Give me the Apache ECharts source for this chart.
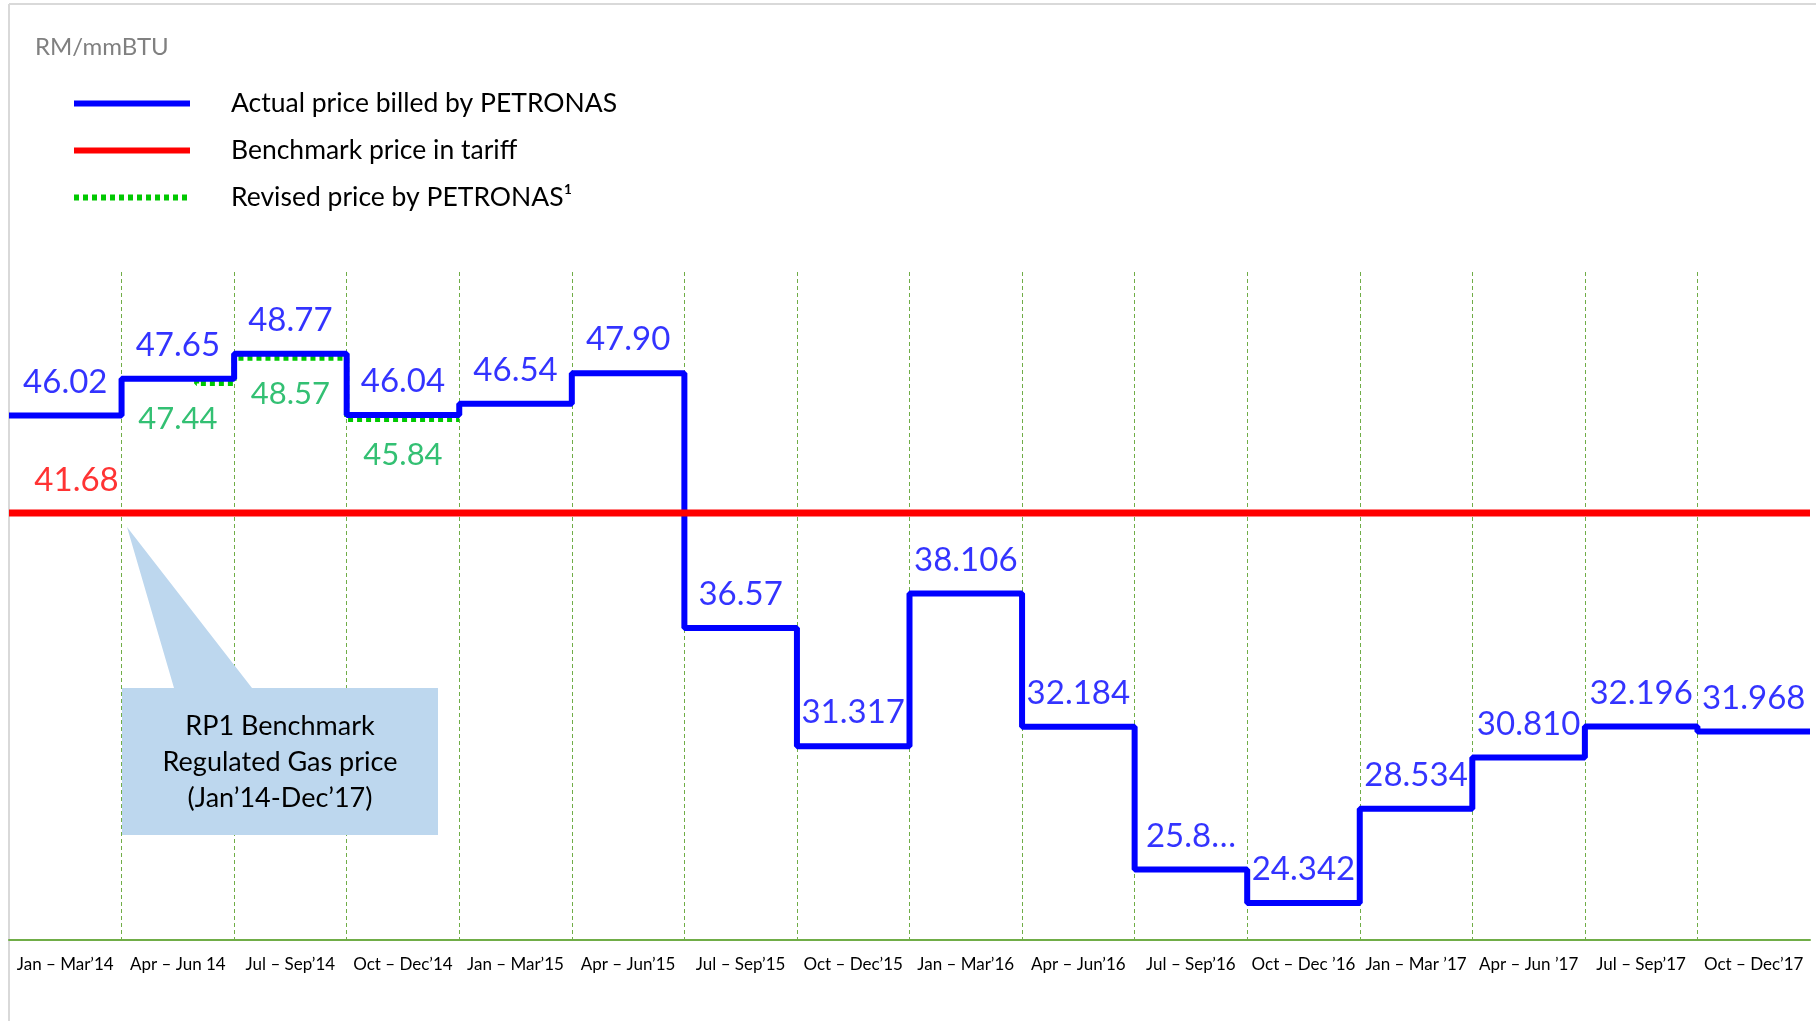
<!DOCTYPE html>
<html>
<head>
<meta charset="utf-8">
<script src="https://cdn.jsdelivr.net/npm/echarts@6/dist/echarts.min.js"></script>
<style>
  html, body { margin: 0; padding: 0; background: #fff; }
  #chart { width: 1816px; height: 1021px; }
</style>
</head>
<body>
<div id="chart"></div>
<script>
// quarters on the x axis
const quarters = [
  "Jan – Mar’14", "Apr – Jun 14", "Jul – Sep’14", "Oct – Dec’14",
  "Jan – Mar’15", "Apr – Jun’15", "Jul – Sep’15", "Oct – Dec’15",
  "Jan – Mar’16", "Apr – Jun’16", "Jul – Sep’16", "Oct – Dec ’16",
  "Jan – Mar ’17", "Apr – Jun ’17", "Jul – Sep’17", "Oct – Dec’17"
];

// RM/mmBTU, one value per quarter
const actualPrice = [46.02, 47.65, 48.77, 46.04, 46.54, 47.90, 36.57, 31.317,
  38.106, 32.184, 25.84, 24.342, 28.534, 30.810, 32.196, 31.968];
const actualText = ["46.02", "47.65", "48.77", "46.04", "46.54", "47.90", "36.57", "31.317",
  "38.106", "32.184", "25.8…", "24.342", "28.534", "30.810", "32.196", "31.968"];

const benchmarkPrice = 41.68;

// revised price: starts in June 2014 (2/3 through Apr-Jun), then Jul-Sep, Oct-Dec
const revisedStart = 1 + 2 / 3;
const revisedQuarter = [1, 2, 3];
const revisedPrice = [47.44, 48.57, 45.84];

const BLUE = "#0000ff";
const RED = "#ff0000";
const GREEN_LINE = "#00c800";
const GREEN_TEXT = "#00b050";
const FONT = "Lato";

// step line for actual price
const actualSteps = actualPrice.map((v, i) => [i, v]);
actualSteps.push([quarters.length, actualPrice[actualPrice.length - 1]]);

// revised price path
const revisedPath = [[revisedStart, actualPrice[revisedQuarter[0]]]];
revisedQuarter.forEach((q, k) => {
  const x0 = k === 0 ? revisedStart : q;
  revisedPath.push([x0, revisedPrice[k]]);
  revisedPath.push([q + 1, revisedPrice[k]]);
});

const chart = echarts.init(document.getElementById("chart"));

const option = {
  animation: false,
  textStyle: { fontFamily: FONT },
  title: {
    text: "RM/mmBTU",
    left: 30,
    top: 30,
    textStyle: { fontFamily: FONT, fontSize: 24, fontWeight: "normal", color: "#808080" },
  },
  legend: {
    orient: "vertical",
    left: 66,
    top: 85,
    itemWidth: 116,
    itemHeight: 14,
    itemGap: 20,
    icon: "inherit",
    selectedMode: false,
    data: ["Actual price billed by PETRONAS", "Benchmark price in tariff", "Revised price by PETRONAS¹"],
    itemStyle: { opacity: 0 },
    lineStyle: { width: 6 },
    textStyle: { fontFamily: FONT, fontSize: 26.5, color: "#000", padding: [0, 0, 0, 36] },
  },
  grid: { left: 9, right: 6, top: 272, bottom: 81 },
  xAxis: [
    {
      type: "category",
      data: quarters,
      boundaryGap: true,
      axisLine: { lineStyle: { color: "#70ad47", width: 2 } },
      axisTick: { show: false },
      axisLabel: { color: "#000", fontFamily: FONT, fontSize: 17, margin: 16, interval: 0 },
      splitLine: { show: false },
    },
    {
      type: "value",
      min: 0,
      max: quarters.length,
      interval: 1,
      show: true,
      axisLine: { show: false },
      axisTick: { show: false },
      axisLabel: { show: false },
      splitLine: {
        show: true,
        showMinLine: false,
        showMaxLine: false,
        lineStyle: { color: "#70ad47", type: [4, 3], width: 1 },
      },
    },
  ],
  yAxis: { type: "value", min: 22.7, max: 52.4, show: false, splitLine: { show: false } },
  series: [
    {
      name: "Actual price billed by PETRONAS",
      type: "line",
      xAxisIndex: 1,
      step: "end",
      data: actualSteps,
      symbol: "none",
      lineStyle: { color: BLUE, width: 6 },
      itemStyle: { color: BLUE },
      z: 3,
    },
    {
      name: "Revised price by PETRONAS¹",
      type: "line",
      xAxisIndex: 1,
      data: revisedPath,
      symbol: "none",
      lineStyle: { color: GREEN_LINE, width: 5, type: [5, 4] },
      itemStyle: { color: GREEN_LINE },
      z: 2,
    },
    {
      name: "Benchmark price in tariff",
      type: "line",
      xAxisIndex: 1,
      data: [[0, benchmarkPrice], [quarters.length, benchmarkPrice]],
      symbol: "none",
      lineStyle: { color: RED, width: 7 },
      itemStyle: { color: RED },
      z: 4,
    },
    {
      name: "actual labels",
      type: "scatter",
      xAxisIndex: 1,
      symbolSize: 0,
      data: actualPrice.map((v, i) => [i + 0.5, v]),
      label: {
        show: true,
        position: "top",
        distance: 17,
        color: BLUE,
        fontFamily: FONT,
        fontSize: 33,
        formatter: (p) => actualText[p.dataIndex],
      },
      z: 5,
    },
    {
      name: "revised labels",
      type: "scatter",
      xAxisIndex: 1,
      symbolSize: 0,
      data: revisedPrice.map((v, k) => [revisedQuarter[k] + 0.5, v]),
      label: {
        show: true,
        position: "bottom",
        distance: 20,
        color: GREEN_TEXT,
        fontFamily: FONT,
        fontSize: 31,
        formatter: (p) => p.value[1].toFixed(2),
      },
      z: 5,
    },
    {
      name: "benchmark label",
      type: "scatter",
      xAxisIndex: 1,
      symbolSize: 0,
      data: [[0.6, benchmarkPrice]],
      label: {
        show: true,
        position: "top",
        distance: 16,
        color: RED,
        fontFamily: FONT,
        fontSize: 33,
        formatter: (p) => p.value[1].toFixed(2),
      },
      z: 5,
    },
  ],
  graphic: [
    // chart frame
    { type: "line", shape: { x1: 9, y1: 4, x2: 1816, y2: 4 }, style: { stroke: "#d9d9d9", lineWidth: 2 }, silent: true },
    { type: "line", shape: { x1: 9, y1: 4, x2: 9, y2: 1021 }, style: { stroke: "#d9d9d9", lineWidth: 2 }, silent: true },
    // callout
    {
      type: "polygon",
      shape: {
        points: [[122, 688], [174, 688], [127, 527], [252, 688], [438, 688], [438, 835], [122, 835]],
      },
      style: { fill: "#bdd7ee" },
      z: 10,
      silent: true,
    },
    {
      type: "text",
      x: 280,
      y: 762,
      style: {
        text: "RP1 Benchmark\nRegulated Gas price\n(Jan’14-Dec’17)",
        fill: "#000",
        font: "27px Lato",
        align: "center",
        verticalAlign: "middle",
        lineHeight: 36,
      },
      z: 11,
      silent: true,
    },
  ],
};

chart.setOption(option);
</script>
</body>
</html>
